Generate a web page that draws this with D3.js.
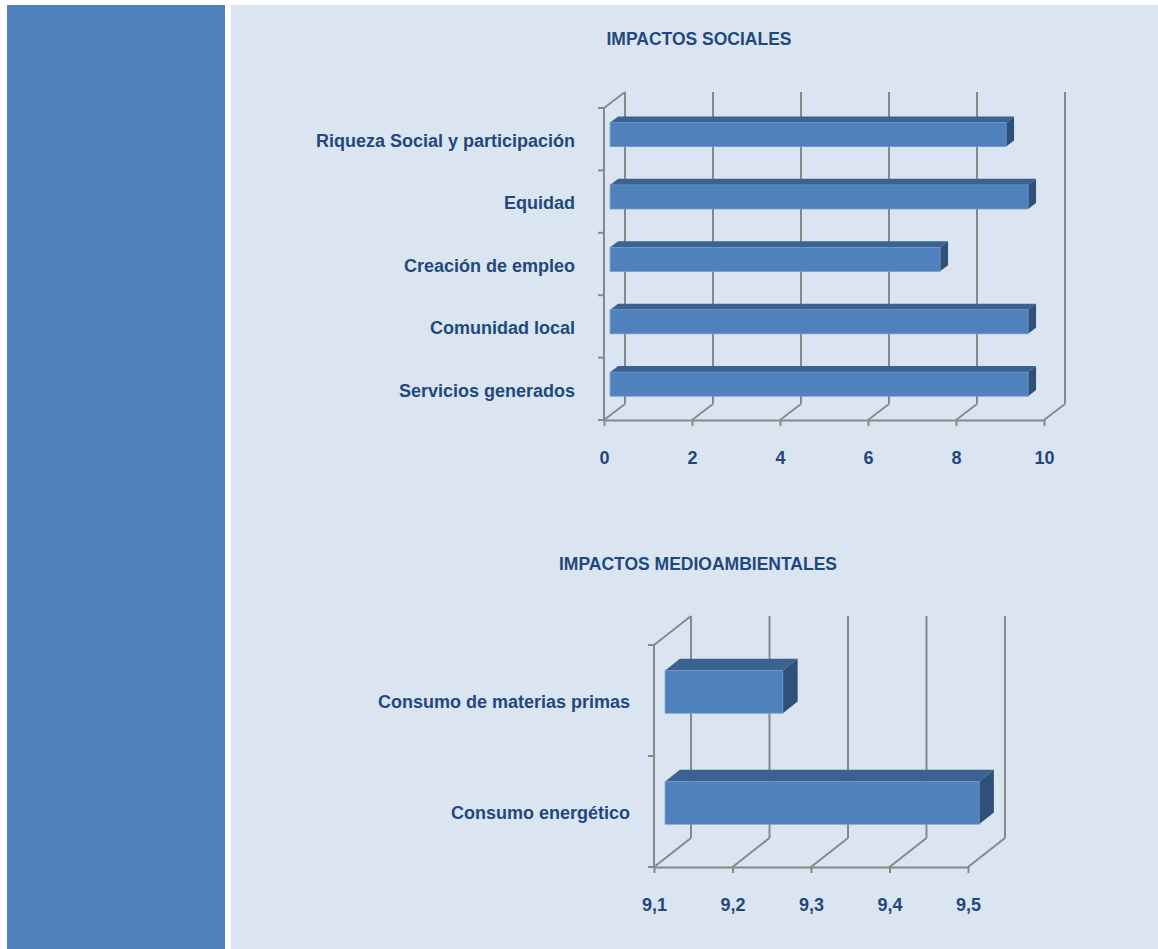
<!DOCTYPE html>
<html>
<head>
<meta charset="utf-8">
<script src="https://cdn.jsdelivr.net/npm/d3@7"></script>
<style>
  html, body { margin: 0; padding: 0; background: #ffffff; }
  svg { display: block; }
  text { font-family: "Liberation Sans", Arial, sans-serif; font-weight: bold; fill: #1F497D; }
</style>
</head>
<body>
<svg id="chart" width="1158" height="949"></svg>
<script>
// ---- Data ----
const socialTitle = "IMPACTOS SOCIALES";
const socialCategories = ["Riqueza Social y participación", "Equidad", "Creación de empleo", "Comunidad local", "Servicios generados"];
const socialValues = [9, 9.5, 7.5, 9.5, 9.5];
const socialTicks = [0, 2, 4, 6, 8, 10];

const envTitle = "IMPACTOS MEDIOAMBIENTALES";
const envCategories = ["Consumo de materias primas", "Consumo energético"];
const envValues = [9.25, 9.5];
const envTicks = [9.1, 9.2, 9.3, 9.4, 9.5];

// ---- Layout ----
const svg = d3.select("#chart");
svg.append("rect").attr("x", 7).attr("y", 5).attr("width", 218).attr("height", 944).attr("fill", "#4F81BD");
svg.append("rect").attr("x", 231).attr("y", 5).attr("width", 927).attr("height", 944).attr("fill", "#DBE5F1");

const locale = d3.formatLocale({decimal: ",", thousands: ".", grouping: [3], currency: ["", "€"]});
const gridColor = "#888888";
const gridW = 2;

function drawChart(cfg) {
  const g = svg.append("g");
  const x = d3.scaleLinear().domain([cfg.ticks[0], cfg.ticks[cfg.ticks.length - 1]]).range(cfg.xRange);
  const y = d3.scaleBand().domain(cfg.categories).range(cfg.yRange).paddingInner(0.615).paddingOuter(0.3075);
  const dx = cfg.depth[0], dy = cfg.depth[1];
  const [y0, y1] = cfg.yRange;

  // title
  g.append("text").attr("x", cfg.titlePos[0]).attr("y", cfg.titlePos[1])
    .attr("text-anchor", "middle").style("font-size", "17.5px").text(cfg.title);

  // back wall gridlines + floor lines
  cfg.ticks.forEach(t => {
    const xf = x(t);
    g.append("line").attr("x1", xf + dx).attr("x2", xf + dx).attr("y1", y0 + dy).attr("y2", y1 + dy)
      .attr("stroke", gridColor).attr("stroke-width", gridW);
    g.append("line").attr("x1", xf + dx).attr("x2", xf).attr("y1", y1 + dy).attr("y2", y1)
      .attr("stroke", gridColor).attr("stroke-width", gridW);
  });
  // side wall front edge and top diagonal
  const xl = x.range()[0];
  g.append("line").attr("x1", xl).attr("x2", xl).attr("y1", y0).attr("y2", y1)
    .attr("stroke", gridColor).attr("stroke-width", gridW);
  g.append("line").attr("x1", xl).attr("x2", xl + dx).attr("y1", y0).attr("y2", y0 + dy)
    .attr("stroke", gridColor).attr("stroke-width", gridW);
  // category boundary ticks
  const step = y.step();
  d3.range(cfg.categories.length + 1).forEach(i => {
    const yy = y0 + i * step;
    g.append("line").attr("x1", xl - 6).attr("x2", xl).attr("y1", yy).attr("y2", yy)
      .attr("stroke", gridColor).attr("stroke-width", gridW);
  });

  // bottom axis
  const ax = g.append("g").attr("transform", `translate(0,${y1})`)
    .call(d3.axisBottom(x).tickValues(cfg.ticks).tickSize(6).tickSizeOuter(0).tickPadding(25)
      .tickFormat(cfg.fmt));
  ax.select(".domain").attr("stroke", gridColor).attr("stroke-width", gridW);
  ax.selectAll(".tick line").attr("stroke", gridColor).attr("stroke-width", gridW);
  ax.selectAll(".tick text").style("font-size", "18px").attr("fill", "#1F497D");

  // left axis labels
  const ay = g.append("g").attr("transform", `translate(${xl},0)`)
    .call(d3.axisLeft(y).tickSize(0).tickPadding(cfg.labelPad));
  ay.select(".domain").remove();
  ay.selectAll(".tick text").style("font-size", "18px").attr("fill", "#1F497D").attr("dy", "0.43em");

  // 3D bars
  const f1 = cfg.f[0], f2 = cfg.f[1];
  const base = x.domain()[0];
  cfg.categories.forEach((c, i) => {
    const v = cfg.values[i];
    const xa = x(base), xb = x(v);
    const yt = y(c), yb = y(c) + y.bandwidth();
    const bg = g.append("g");
    // top face
    bg.append("polygon").attr("points", [
      [xa + f1 * dx, yt + f1 * dy], [xb + f1 * dx, yt + f1 * dy],
      [xb + f2 * dx, yt + f2 * dy], [xa + f2 * dx, yt + f2 * dy]
    ].map(p => p.join(",")).join(" ")).attr("fill", "#3B6290");
    // side face
    bg.append("polygon").attr("points", [
      [xb + f1 * dx, yt + f1 * dy], [xb + f2 * dx, yt + f2 * dy],
      [xb + f2 * dx, yb + f2 * dy], [xb + f1 * dx, yb + f1 * dy]
    ].map(p => p.join(",")).join(" ")).attr("fill", "#2F5079");
    // front face
    bg.append("rect").attr("x", xa + f1 * dx).attr("y", yt + f1 * dy)
      .attr("width", xb - xa).attr("height", yb - yt)
      .attr("fill", "#4F81BD").attr("stroke", "#6E96C9").attr("stroke-width", 0.8);
  });
}

drawChart({
  title: socialTitle, titlePos: [699, 45],
  categories: socialCategories, values: socialValues, ticks: socialTicks,
  xRange: [604, 1044], yRange: [108, 420], depth: [21, -16], f: [0.29, 0.67],
  labelPad: 29, fmt: locale.format("d")
});

drawChart({
  title: envTitle, titlePos: [698, 570],
  categories: envCategories, values: envValues, ticks: envTicks,
  xRange: [654, 968], yRange: [645, 867], depth: [37, -29], f: [0.30, 0.70],
  labelPad: 24, fmt: locale.format(".1f")
});
</script>
</body>
</html>
